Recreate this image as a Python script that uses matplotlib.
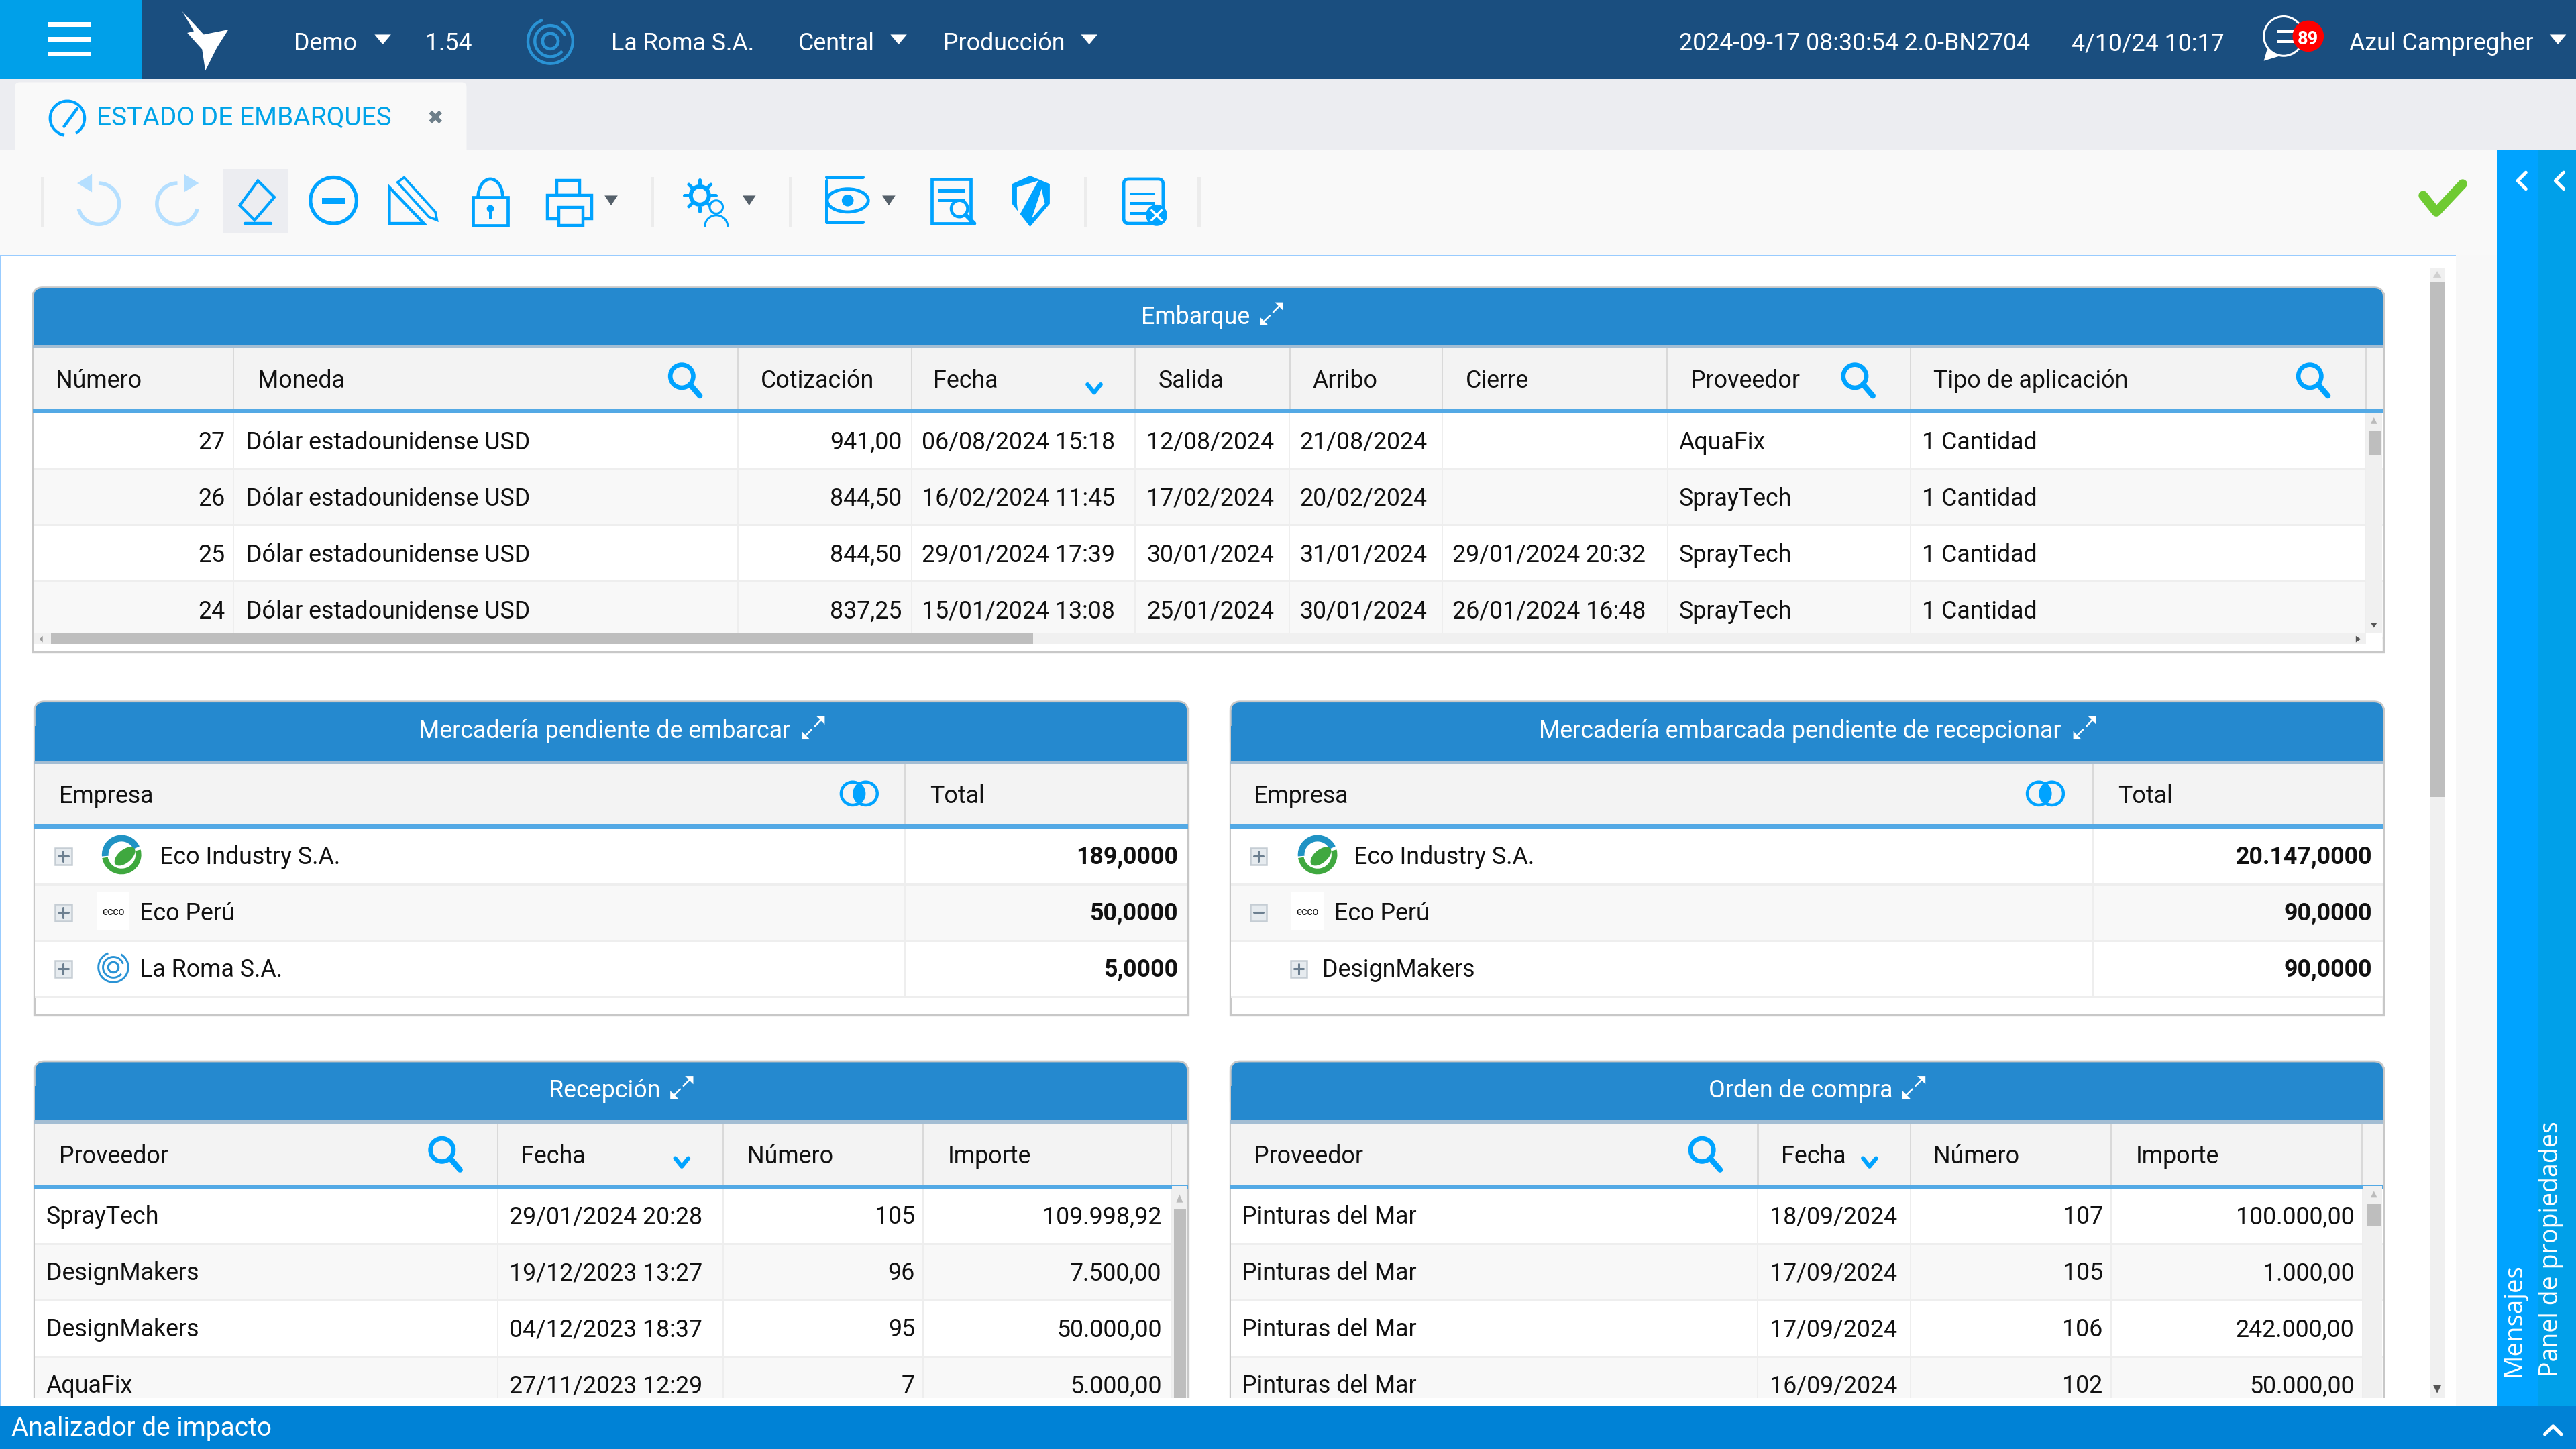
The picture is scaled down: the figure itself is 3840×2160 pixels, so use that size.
import matplotlib
matplotlib.use("Agg")
import matplotlib.pyplot as plt
from matplotlib.patches import Rectangle, Circle, Polygon, FancyBboxPatch, Arc, Ellipse, Wedge
import numpy as np

plt.rcParams['font.family'] = ['Roboto', 'DejaVu Sans']

# datos de las tablas
embarque_cols = ["Número", "Moneda", "Cotización", "Fecha", "Salida", "Arribo", "Cierre", "Proveedor", "Tipo de aplicación"]
embarque_numero = ["27", "26", "25", "24"]
embarque_moneda = ["Dólar estadounidense USD"] * 4
embarque_cotiz = ["941,00", "844,50", "844,50", "837,25"]
embarque_fecha = ["06/08/2024 15:18", "16/02/2024 11:45", "29/01/2024 17:39", "15/01/2024 13:08"]
embarque_salida = ["12/08/2024", "17/02/2024", "30/01/2024", "25/01/2024"]
embarque_arribo = ["21/08/2024", "20/02/2024", "31/01/2024", "30/01/2024"]
embarque_cierre = ["", "", "29/01/2024 20:32", "26/01/2024 16:48"]
embarque_prov = ["AquaFix", "SprayTech", "SprayTech", "SprayTech"]
embarque_tipo = ["1 Cantidad"] * 4

pend_empresa = ["Eco Industry S.A.", "Eco Perú", "La Roma S.A."]
pend_total = ["189,0000", "50,0000", "5,0000"]
recep_empresa = ["Eco Industry S.A.", "Eco Perú", "DesignMakers"]
recep_total = ["20.147,0000", "90,0000", "90,0000"]

recepcion_cols = ["Proveedor", "Fecha", "Número", "Importe"]
recepcion_prov = ["SprayTech", "DesignMakers", "DesignMakers", "AquaFix"]
recepcion_fecha = ["29/01/2024 20:28", "19/12/2023 13:27", "04/12/2023 18:37", "27/11/2023 12:29"]
recepcion_num = ["105", "96", "95", "7"]
recepcion_imp = ["109.998,92", "7.500,00", "50.000,00", "5.000,00"]

orden_prov = ["Pinturas del Mar"] * 4
orden_fecha = ["18/09/2024", "17/09/2024", "17/09/2024", "16/09/2024"]
orden_num = ["107", "105", "106", "102"]
orden_imp = ["100.000,00", "1.000,00", "242.000,00", "50.000,00"]

FS = 12.9
NAVY = "#1A4E7F"
CYAN = "#00A0E9"
BRIGHT = "#00A3FF"
HEAD = "#2589CF"
LINE = "#53A9E5"
INK = "#111111"

fig = plt.figure(figsize=(19.2, 10.8), dpi=200)
ax = fig.add_axes([0, 0, 1, 1])
ax.set_xlim(0, 1568)
ax.set_ylim(882, 0)
ax.axis("off")


def rect(x0, y0, x1, y1, color, z=1):
    ax.add_patch(Rectangle((x0, y0), x1 - x0, y1 - y0, fc=color, ec="none", zorder=z))


def txt(x, y, s, color=INK, ha="left", size=FS, z=3, **kw):
    ax.text(x, y, s, color=color, ha=ha, va="center_baseline", fontsize=size, zorder=z, **kw)


def stroke(xs, ys, color=BRIGHT, lw=1.6, z=2):
    ax.plot(xs, ys, color=color, lw=lw, zorder=z, solid_capstyle="round")


def ring(x, y, r, color=BRIGHT, lw=1.6, z=2):
    ax.add_patch(Circle((x, y), r, fc="none", ec=color, lw=lw, zorder=z))


def fill(points, color, z=2):
    ax.add_patch(Polygon(points, closed=True, fc=color, ec="none", zorder=z))


def caret(x, y, color="white", s=5):
    fill([(x - s, y - 3), (x + s, y - 3), (x, y + 3)], color, 4)


def magnifier(x, y):
    ring(x - 2, y - 2, 7, BRIGHT, 2.4)
    stroke([x + 3, x + 9], [y + 3, y + 10], BRIGHT, 3)


def sort_arrow(x, y):
    stroke([x - 4, x, x + 4], [y - 3, y + 2, y - 3], BRIGHT, 2.2)


def overlap(x, y):
    ring(x - 4, y, 7, BRIGHT, 1.6)
    ring(x + 4, y, 7, BRIGHT, 1.6)
    ax.add_patch(Ellipse((x, y), 6, 11, fc=BRIGHT, ec="none", zorder=2))


def expand_icon(x, y):
    stroke([x - 5, x - 1], [y + 5, y + 1], "white", 0.9)
    stroke([x + 1, x + 5], [y - 1, y - 5], "white", 0.9)
    fill([(x - 7, y + 7), (x - 7, y + 2), (x - 2, y + 7)], "white", 4)
    fill([(x + 7, y - 7), (x + 7, y - 2), (x + 2, y - 7)], "white", 4)


def tree_box(x, y, minus=False):
    ax.add_patch(Rectangle((x - 5, y - 5), 10, 10, fc="#E6EBEF", ec="#C5CDD4", lw=0.9, zorder=2))
    stroke([x - 3, x + 3], [y, y], "#6C7F90", 1.1)
    if not minus:
        stroke([x, x], [y - 3, y + 3], "#6C7F90", 1.1)


def roma_logo(x, y, scale=1.0, color="#2A93D5"):
    ax.add_patch(Arc((x, y), 26 * scale, 26 * scale, theta1=-60, theta2=250, ec=color, lw=1.5 * scale, zorder=4))
    ax.add_patch(Arc((x, y), 18 * scale, 18 * scale, theta1=40, theta2=340, ec=color, lw=1.5 * scale, zorder=4))
    ring(x, y, 4.5 * scale, color, 1.6 * scale, 4)


def eco_logo(x, y):
    ax.add_patch(Wedge((x, y), 12, 175, 335, width=4, fc="#2093C4", ec="none", zorder=2))
    ax.add_patch(Wedge((x, y), 12, 345, 530, width=3.5, fc="#3FA83F", ec="none", zorder=2))
    ax.add_patch(Ellipse((x + 2, y + 1), 15, 8, angle=-40, fc="#3FA83F", ec="none", zorder=2))


def ecco_logo(x, y):
    rect(x - 10, y - 12, x + 10, y + 12, "white", 2)
    txt(x, y, "ecco", size=5.6, ha="center")


def table(x0, x1, y0, head_y, title, title_x, expand_x, bounds, header_xs, headers, rows_end, n_rows, row_h=34.3):
    # marco, titulo y fila de cabecera de un panel
    ax.add_patch(Rectangle((x0, y0 + 4), x1 - x0, rows_end - y0 - 4, fc="white", ec="#C8C8C8", lw=1.2, zorder=1))
    ax.add_patch(FancyBboxPatch((x0, y0), x1 - x0, 30, boxstyle="round,pad=0,rounding_size=6",
                                fc=HEAD, ec="#C8C8C8", lw=1.0, zorder=1.1))
    rect(x0 + 0.4, y0 + 15, x1 - 0.4, head_y - 2, HEAD, 1.2)
    rect(x0, head_y - 2, x1, head_y, "#A3BDD3", 1.3)
    rect(x0 + 0.4, head_y, x1 - 0.4, head_y + 37, "#F3F3F3", 1.3)
    rect(x0, head_y + 37, x1, head_y + 39.5, LINE, 1.6)
    top = head_y + 39.5
    for i in range(n_rows):
        a = top + i * row_h
        rect(x0 + 0.4, a, x1 - 0.4, a + row_h, "white" if i % 2 == 0 else "#F8F8F8", 1.4)
        rect(x0 + 0.4, a + row_h - 1.2, x1 - 0.4, a + row_h, "#EEEEEE", 1.5)
    for b in bounds:
        rect(b - 0.5, head_y, b + 0.5, head_y + 37, "#D9D9D9", 1.5)
        rect(b - 0.4, top, b + 0.4, top + n_rows * row_h, "#EEEEEE", 1.5)
    txt(title_x, y0 + 16.5, title, "white", ha="center")
    expand_icon(expand_x, y0 + 16)
    for hx, h in zip(header_xs, headers):
        txt(hx, head_y + 18.2, h)
    return top


# barra superior
rect(0, 0, 1568, 48, NAVY)
rect(0, 0, 86, 48, CYAN)
for yy in (15, 24, 33):
    rect(29, yy - 1.5, 55, yy + 1.5, "white", 2)
fill([(111, 7), (124, 21), (139, 18), (132, 29), (125, 43), (123, 30), (114, 20), (118, 19)], "white")
for xx, s in [(179, "Demo"), (259, "1.54"), (372, "La Roma S.A."), (486, "Central"), (574, "Producción"),
              (1022, "2024-09-17 08:30:54 2.0-BN2704"), (1261, "4/10/24 10:17"), (1430, "Azul Campregher")]:
    txt(xx, 25, s, "white")
for xx in (233, 547, 663, 1557):
    caret(xx, 24)
roma_logo(335, 25, 1.05, "#2A93D5")
ax.add_patch(Ellipse((1390, 22), 24, 24, fc="none", ec="white", lw=1.1, zorder=2))
fill([(1380, 30), (1378, 37), (1388, 34)], "white")
rect(1386, 18, 1396, 20, "white", 3)
rect(1386, 24, 1396, 26, "white", 3)
ax.add_patch(Circle((1405, 22), 9.5, fc="#FF0000", ec="none", zorder=4))
txt(1405, 22.5, "89", "white", ha="center", size=9.8, z=5, fontweight="bold")

# pestanas y barra de herramientas
rect(0, 48, 1520, 91, "#ECEDF1")
rect(1520, 48, 1568, 91, "#ECEDF1")
ax.add_patch(FancyBboxPatch((9, 50), 275, 50, boxstyle="round,pad=0,rounding_size=3", fc="#F9F9F9", ec="none", zorder=1))
rect(0, 91, 1520, 155, "#F9F9F9")
ax.add_patch(Arc((41, 72), 21, 21, theta1=100, theta2=420, ec=BRIGHT, lw=1.5, zorder=2))
stroke([39, 47], [77, 66], BRIGHT, 1.6)
txt(59, 70.5, "ESTADO DE EMBARQUES", "#00A3E8", size=14)
txt(265, 71, "✖", "#6E7F8A", ha="center", size=10.5)
rect(136, 103, 175, 142, "#ECEDF1")
for xx in (26, 397, 481, 661, 730):
    rect(xx - 1, 108, xx + 1, 138, "#ECECEC")

# deshacer / rehacer
ax.add_patch(Arc((60, 124), 25, 25, theta1=-90, theta2=165, ec="#B5DFFF", lw=2, zorder=2))
fill([(47, 111.5), (56, 106), (56, 117)], "#B5DFFF")
ax.add_patch(Arc((108, 124), 25, 25, theta1=15, theta2=270, ec="#B5DFFF", lw=2, zorder=2))
fill([(121, 111.5), (112, 106), (112, 117)], "#B5DFFF")
# borrador
ax.add_patch(Polygon([(146, 125), (157, 110), (167, 120), (155, 134)], closed=True, fc="none", ec=BRIGHT, lw=1.5, zorder=2))
stroke([149, 165], [136, 136], BRIGHT, 1.6)
# menos
ring(203, 122, 14, BRIGHT, 1.9)
rect(196, 120.5, 210, 124, BRIGHT, 2)
# regla y lapiz
ax.add_patch(Polygon([(237, 114), (258, 136), (237, 136)], closed=True, fc="none", ec=BRIGHT, lw=1.6, zorder=2))
ax.add_patch(Polygon([(242, 111), (246, 108), (265, 129), (266, 134), (261, 132)], closed=True, fc="#F9F9F9", ec=BRIGHT, lw=1.3, zorder=2.1))
# candado
ax.add_patch(Rectangle((288, 120), 21, 17, fc="none", ec=BRIGHT, lw=1.7, zorder=2))
ax.add_patch(Arc((298.5, 120), 15, 22, theta1=180, theta2=360, ec=BRIGHT, lw=1.7, zorder=2))
ax.add_patch(Circle((298.5, 127), 2.2, fc=BRIGHT, ec="none", zorder=2))
rect(297.5, 127, 299.5, 133, BRIGHT, 2)
# impresora
ax.add_patch(Rectangle((333, 119), 27, 14, fc="none", ec=BRIGHT, lw=1.6, zorder=2))
ax.add_patch(Rectangle((339, 110), 14, 9, fc="none", ec=BRIGHT, lw=1.6, zorder=2))
ax.add_patch(Rectangle((340, 126), 15, 11, fc="#F9F9F9", ec=BRIGHT, lw=1.6, zorder=2.1))
caret(372, 122, "#55606A", 4)
# engranaje y usuario
ring(426, 119, 5.5, BRIGHT, 2.2)
for a in np.arange(0, 360, 45):
    ca, sa = np.cos(np.radians(a)), np.sin(np.radians(a))
    stroke([426 + 7 * ca, 426 + 9.5 * ca], [119 + 7 * sa, 119 + 9.5 * sa], BRIGHT, 1.8)
ax.add_patch(Circle((436, 126), 4, fc="#F9F9F9", ec=BRIGHT, lw=1.1, zorder=3))
ax.add_patch(Arc((436, 138), 14, 14, theta1=180, theta2=360, ec=BRIGHT, lw=1.1, zorder=3))
caret(456, 122, "#55606A", 4)
# ojo
stroke([503, 503, 525], [110, 135, 135], BRIGHT, 1.8)
stroke([503, 525], [108, 108], BRIGHT, 1.8)
ax.add_patch(Ellipse((516, 122), 25, 14, fc="#F9F9F9", ec=BRIGHT, lw=1.7, zorder=3))
ax.add_patch(Circle((516, 122), 3.6, fc=BRIGHT, ec="none", zorder=3))
caret(541, 122, "#55606A", 4)
# documento con lupa
ax.add_patch(Rectangle((567, 109), 24, 27, fc="none", ec=BRIGHT, lw=1.7, zorder=2))
for yy in (116, 122):
    rect(571, yy - 1, 587, yy + 1, BRIGHT, 2)
ax.add_patch(Circle((584, 127), 5, fc="#F9F9F9", ec=BRIGHT, lw=1.6, zorder=3))
stroke([588, 593], [131, 136], BRIGHT, 2.2, 3)
# escudo
fill([(616, 112), (627, 107), (639, 112), (639, 124), (627, 138), (616, 124)], BRIGHT)
fill([(619, 114), (632, 110), (620, 132), (619, 124)], "#F9F9F9", 2.1)
fill([(634, 115), (636, 124), (628, 133)], "#F9F9F9", 2.1)
# lista con x
ax.add_patch(FancyBboxPatch((684, 109), 24, 27, boxstyle="round,pad=0,rounding_size=3", fc="none", ec=BRIGHT, lw=1.7, zorder=2))
for yy in (118, 124, 130):
    rect(688, yy - 1, 703, yy + 1, BRIGHT, 2)
ax.add_patch(Circle((704, 131), 6.5, fc=BRIGHT, ec="none", zorder=3))
stroke([701, 707], [128, 134], "white", 1.2, 4)
stroke([701, 707], [134, 128], "white", 1.2, 4)
# check verde
stroke([1475, 1483, 1499], [119, 129, 112], "#6FCA33", 5)

# panel lateral derecho
rect(1495, 155, 1520, 856, "#F8F8F8")
rect(1520, 91, 1545, 856, BRIGHT)
rect(1545, 91, 1568, 856, CYAN)
for xx in (1535, 1558):
    stroke([xx + 2.5, xx - 2.5, xx + 2.5], [105, 110, 115], "white", 1.8)
ax.text(1530, 838, "Mensajes", color="white", rotation=90, ha="center", va="bottom", fontsize=13.8,
        family=["Open Sans", "DejaVu Sans"], zorder=3)
ax.text(1553, 838, "Panel de propiedades", color="white", rotation=90, ha="center", va="bottom", fontsize=13.5,
        family=["Open Sans", "DejaVu Sans"], zorder=3)

# area de contenido
rect(0, 155, 1495, 856, "white", 0.5)
rect(0, 154.5, 1495.5, 156, "#99CCFF", 0.6)
rect(0, 155, 0.8, 856, "#99CCFF", 0.6)
rect(1495, 155, 1495.8, 856, "#99CCFF", 0.6)
rect(1479, 163, 1488, 851, "#F0F0F0", 0.7)
rect(1479, 172, 1488, 485, "#BEBEBE", 0.8)
fill([(1481, 169), (1486, 169), (1483.5, 165)], "#D0D0D0", 0.9)
fill([(1481, 843), (1486, 843), (1483.5, 848)], "#555555", 0.9)
rect(1501, 492, 1502, 520, "#7FC0F0", 0.8)

# panel Embarque
emb_bounds = [142, 449, 555, 691, 785, 878, 1015, 1163, 1440]
emb_hx = [34, 157, 463, 568, 705, 799, 892, 1029, 1177]
top = table(20, 1451, 175, 212, "Embarque", 727.5, 774, emb_bounds, emb_hx, embarque_cols, 397, 4)
for i in range(4):
    y = top + 16.2 + i * 34.3
    txt(137, y, embarque_numero[i], ha="right")
    txt(150, y, embarque_moneda[i])
    txt(549, y, embarque_cotiz[i], ha="right")
    txt(561, y, embarque_fecha[i])
    txt(698, y, embarque_salida[i])
    txt(791, y, embarque_arribo[i])
    txt(884, y, embarque_cierre[i])
    txt(1022, y, embarque_prov[i])
    txt(1170, y, embarque_tipo[i])
rect(21, 385, 1450, 396.5, "white", 2)
rect(21, 385, 1440, 392, "#F0F0F0", 2.1)
rect(31, 385, 629, 392, "#BEBEBE", 2.2)
rect(1440, 251, 1450, 385, "#F0F0F0", 2.1)
rect(1442, 262, 1449, 277, "#BEBEBE", 2.2)
fill([(1443, 258), (1447, 258), (1445, 254)], "#BBBBBB", 2.2)
fill([(1443, 379), (1447, 379), (1445, 382)], "#555555", 2.2)
fill([(26, 387), (26, 391), (24, 389)], "#999999", 2.2)
fill([(1434, 387), (1434, 391), (1437, 389)], "#555555", 2.2)
magnifier(417, 231)
magnifier(1131, 231)
magnifier(1408, 231)
sort_arrow(666, 237)

# paneles de mercaderia
top = table(21, 723, 427, 465, "Mercadería pendiente de embarcar", 368, 495, [551], [36, 566], ["Empresa", "Total"], 618, 3)
overlap(523, 483)
ROW_Y = 15.7
for i in range(3):
    y = top + ROW_Y + i * 34.3
    tree_box(38.5, y + 1)
    txt(717, y, pend_total[i], ha="right", fontweight="bold")
txt(97, top + ROW_Y, pend_empresa[0])
txt(85, top + ROW_Y + 34.3, pend_empresa[1])
txt(85, top + ROW_Y + 68.6, pend_empresa[2])
eco_logo(74, top + ROW_Y)
ecco_logo(69, top + ROW_Y + 34.3)
roma_logo(69, top + ROW_Y + 68.6, 0.7)

top = table(749, 1451, 427, 465, "Mercadería embarcada pendiente de recepcionar", 1095.5, 1269, [1274], [763, 1289], ["Empresa", "Total"], 618, 3)
overlap(1245, 483)
tree_box(766, top + ROW_Y + 1)
tree_box(766, top + ROW_Y + 35.3, minus=True)
tree_box(790.5, top + ROW_Y + 69.6)
for i in range(3):
    txt(1444, top + ROW_Y + i * 34.3, recep_total[i], ha="right", fontweight="bold")
txt(824, top + ROW_Y, recep_empresa[0])
txt(812, top + ROW_Y + 34.3, recep_empresa[1])
txt(805, top + ROW_Y + 68.6, recep_empresa[2])
eco_logo(802, top + ROW_Y)
ecco_logo(796, top + ROW_Y + 34.3)

# panel Recepcion
top = table(21, 723, 646, 684, "Recepción", 368, 415, [303, 440, 562, 713], [36, 317, 455, 577], recepcion_cols, 860, 4)
for i in range(4):
    y = top + ROW_Y + i * 34.3
    txt(28, y, recepcion_prov[i])
    txt(310, y, recepcion_fecha[i])
    txt(557, y, recepcion_num[i], ha="right")
    txt(707, y, recepcion_imp[i], ha="right")
rect(713.5, 722, 722.5, 851, "#F0F0F0", 2.1)
rect(714.5, 736, 722, 851, "#BEBEBE", 2.2)
fill([(716, 732), (720, 732), (718, 727)], "#BBBBBB", 2.2)
magnifier(271, 702)
sort_arrow(415, 708)

# panel Orden de compra
top = table(749, 1451, 646, 684, "Orden de compra", 1096, 1165, [1070, 1163, 1285, 1438], [763, 1084, 1177, 1300], recepcion_cols, 860, 4)
for i in range(4):
    y = top + ROW_Y + i * 34.3
    txt(756, y, orden_prov[i])
    txt(1077, y, orden_fecha[i])
    txt(1280, y, orden_num[i], ha="right")
    txt(1433, y, orden_imp[i], ha="right")
rect(1438.5, 722, 1450, 851, "#F0F0F0", 2.1)
rect(1441, 733, 1449.5, 746, "#BEBEBE", 2.2)
fill([(1443, 729), (1447, 729), (1445, 725)], "#BBBBBB", 2.2)
magnifier(1038, 702)
sort_arrow(1138, 708)

# franja inferior
rect(1, 851, 1495, 856, "white", 5)
rect(0, 856, 1568, 882, "#0082D6", 5)
txt(7, 868, "Analizador de impacto", "white", z=6, size=14)
stroke([1549, 1554, 1559], [873, 868, 873], "white", 1.8, 6)

fig.savefig("out.png", dpi=200)
